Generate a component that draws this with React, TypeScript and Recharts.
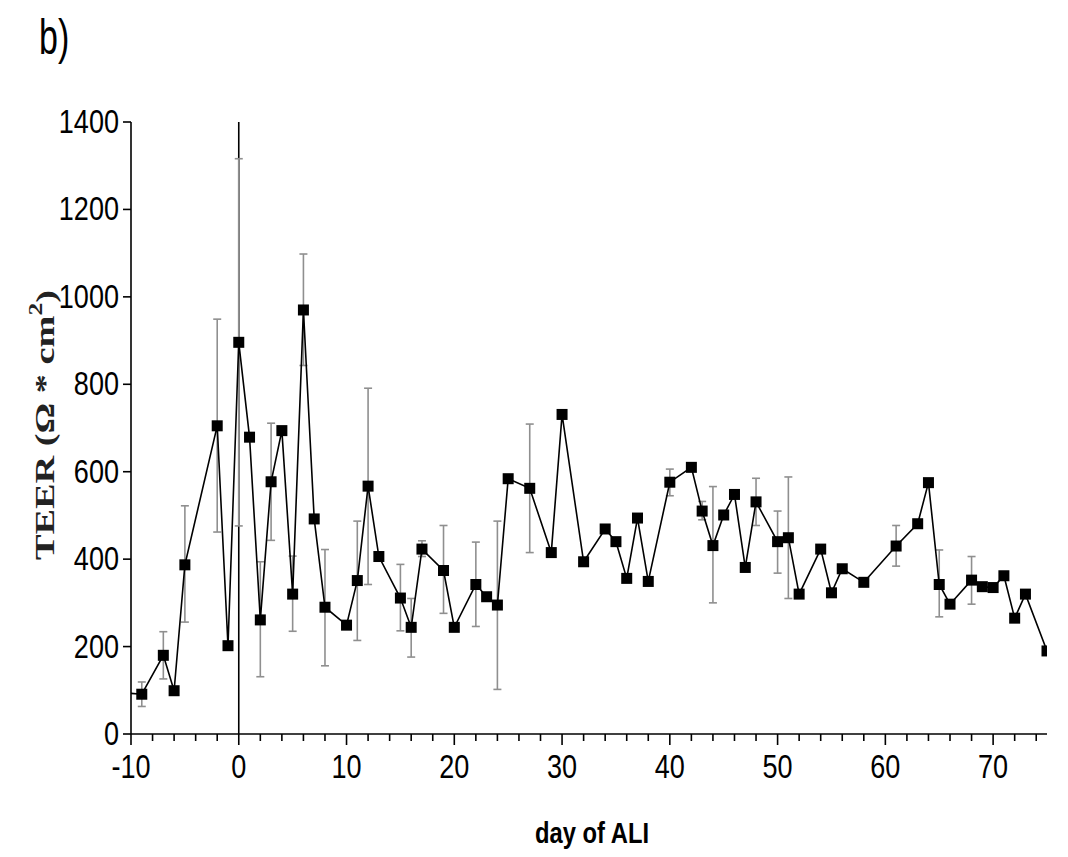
import React from 'react';
import { LineChart, Line, XAxis, YAxis, ErrorBar, ReferenceLine } from 'recharts';

const days = [-10, -9, -7, -6, -5, -2, -1, 0, 1, 2, 3, 4, 5, 6, 7, 8, 10, 11, 12, 13, 15, 16, 17, 19, 20, 22, 23, 24, 25, 27, 29, 30, 32, 34, 35, 36, 37, 38, 40, 42, 43, 44, 45, 46, 47, 48, 50, 51, 52, 54, 55, 56, 58, 61, 63, 64, 65, 66, 68, 69, 70, 71, 72, 73, 75];
const teer = [93, 91, 180, 99, 387, 705, 202, 896, 679, 261, 577, 694, 320, 970, 492, 290, 249, 351, 567, 406, 311, 244, 423, 374, 244, 342, 314, 295, 584, 562, 415, 731, 394, 469, 440, 356, 494, 349, 576, 610, 510, 431, 501, 548, 381, 531, 440, 449, 320, 423, 323, 378, 347, 430, 481, 575, 342, 297, 352, 337, 335, 362, 265, 320, 190];
const errLow: (number | null)[] = [null, 63, 126, null, 256, 462, null, 476, null, 131, 443, null, 235, 843, null, 156, null, 214, 342, null, 236, 176, 406, 276, null, 246, null, 102, null, 415, null, null, null, null, null, null, null, null, 545, null, 490, 300, null, null, null, 477, 368, 310, null, null, null, null, null, 384, null, null, 268, null, 297, null, null, null, null, null, null];
const errHigh: (number | null)[] = [null, 119, 234, null, 522, 949, null, 1316, null, 394, 711, null, 407, 1098, null, 422, null, 487, 791, null, 388, 310, 442, 477, null, 439, null, 487, null, 709, null, null, null, null, null, null, null, null, 606, null, 532, 566, null, null, null, 585, 510, 588, null, null, null, null, null, 477, null, null, 421, null, 406, null, null, null, null, null, null];

const xMajorTicks = [-10, 0, 10, 20, 30, 40, 50, 60, 70];
const xMinorTicks = [-8, -6, -4, -2, 2, 4, 6, 8, 12, 14, 16, 18, 22, 24, 26, 28, 32, 34, 36, 38, 42, 44, 46, 48, 52, 54, 56, 58, 62, 64, 66, 68, 72, 74];
const yTicks = [0, 200, 400, 600, 800, 1000, 1200, 1400];

const data = days.map((d, i) => ({
  day: d,
  teer: teer[i],
  err: errLow[i] == null ? null : [teer[i] - (errLow[i] as number), (errHigh[i] as number) - teer[i]],
}));

const allXTicks = [...xMajorTicks, ...xMinorTicks].sort((a, b) => a - b);

const FONT = '"Liberation Sans", Arial, sans-serif';
const SX = 0.82;

const XTick = (props: any) => {
  const { x, y, payload } = props;
  const major = xMajorTicks.includes(payload.value);
  return (
    <g>
      <line x1={x} x2={x} y1={y} y2={y + (major ? 11 : 7)} stroke="#000" strokeWidth={1.6} />
      {major && (
        <text
          x={0}
          y={0}
          transform={`translate(${x},${y + 44}) scale(${SX},1)`}
          textAnchor="middle"
          fontFamily={FONT}
          fontSize={33}
          fill="#000"
        >
          {payload.value}
        </text>
      )}
    </g>
  );
};

const YTick = (props: any) => {
  const { x, y, payload } = props;
  return (
    <text
      x={0}
      y={0}
      transform={`translate(${x},${y + 11}) scale(${SX},1)`}
      textAnchor="end"
      fontFamily={FONT}
      fontSize={33}
      fill="#000"
    >
      {payload.value}
    </text>
  );
};

const SquareDot = (props: any) => {
  const { cx, cy, index } = props;
  if (index === 0 || cx == null || cy == null) return <g key={`d${index}`} />;
  return <rect key={`d${index}`} x={cx - 5.5} y={cy - 5.5} width={11} height={11} fill="#000" />;
};

export default function App() {
  return (
    <div style={{ position: 'absolute', left: 0, top: 0, width: 1068, height: 857, background: '#fff' }}>
      <div
        style={{
          position: 'absolute',
          left: 39,
          top: 8,
          fontFamily: FONT,
          fontSize: 50,
          lineHeight: '58px',
          transform: 'scale(0.68,1)',
          transformOrigin: 'left top',
          color: '#000',
        }}
      >
        b)
      </div>
      <LineChart width={1068} height={857} data={data} margin={{ top: 122, right: 21, bottom: 0, left: 0 }}>
        <XAxis
          type="number"
          dataKey="day"
          domain={[-10, 75]}
          ticks={allXTicks}
          interval={0}
          height={123}
          tickSize={0}
          tickMargin={0}
          tickLine={false}
          tick={<XTick />}
          axisLine={{ stroke: '#000', strokeWidth: 1.6 }}
          allowDataOverflow
          label={{
            content: () => (
              <text
                x={0}
                y={0}
                transform={`translate(592,843) scale(${SX},1)`}
                textAnchor="middle"
                fontFamily={FONT}
                fontWeight="bold"
                fontSize={29}
                fill="#000"
              >
                day of ALI
              </text>
            ),
          }}
        />
        <YAxis
          type="number"
          domain={[0, 1400]}
          ticks={yTicks}
          interval={0}
          width={131}
          tickSize={8}
          tickMargin={4}
          tickLine={{ stroke: '#000', strokeWidth: 1.6 }}
          tick={<YTick />}
          axisLine={{ stroke: '#000', strokeWidth: 1.6 }}
          label={{
            content: () => (
              <text
                x={0}
                y={0}
                transform="translate(45,425) rotate(-90) scale(1.42,1)"
                textAnchor="middle"
                dominantBaseline="central"
                fontFamily='"Liberation Serif", "Times New Roman", serif'
                fontWeight="bold"
                fontSize={27}
                fill="#222"
              >
                TEER (Ω * cm
                <tspan dy={-10} fontSize={18}>2</tspan>
                <tspan dy={10}>)</tspan>
              </text>
            ),
          }}
        />
        <ReferenceLine x={0} stroke="#000" strokeWidth={1.6} />
        <Line
          type="linear"
          dataKey="teer"
          stroke="#000"
          strokeWidth={1.6}
          dot={SquareDot}
          activeDot={false}
          isAnimationActive={false}
        >
          <ErrorBar dataKey="err" width={4} stroke="#8f8f8f" strokeWidth={1.6} direction="y" />
        </Line>
      </LineChart>
    </div>
  );
}
